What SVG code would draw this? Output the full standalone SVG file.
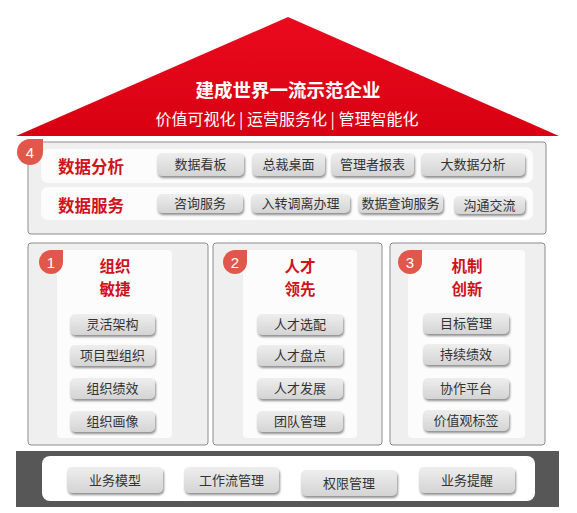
<svg xmlns="http://www.w3.org/2000/svg" width="577" height="513" viewBox="0 0 577 513">
<defs>
<linearGradient id="btnGrad" x1="0" y1="0" x2="0" y2="1">
<stop offset="0" stop-color="#eeeeee"/>
<stop offset="1" stop-color="#d4d4d4"/>
</linearGradient>
<linearGradient id="roofGrad" x1="0" y1="0" x2="0" y2="1">
<stop offset="0" stop-color="#ea0a1e"/>
<stop offset="1" stop-color="#d80012"/>
</linearGradient>
<filter id="shadow" x="-10%" y="-20%" width="130%" height="160%">
<feDropShadow dx="1" dy="2" stdDeviation="0.9" flood-color="#555" flood-opacity="0.65"/>
</filter>
</defs>
<style>
.panel{fill:#efefef;stroke:#8c8c8c;stroke-width:1}
.inner{fill:#fcfcfc}
.btn{fill:url(#btnGrad);filter:url(#shadow)}
.bt{font-family:"Noto Sans CJK SC","Noto Sans",sans-serif;font-size:13px;fill:#333;text-anchor:middle}
.lbl{font-family:"Noto Sans CJK SC","Noto Sans",sans-serif;font-size:16.5px;font-weight:bold;fill:#d0121b;text-anchor:middle}
.ttl{font-family:"Noto Sans CJK SC","Noto Sans",sans-serif;font-size:15.5px;font-weight:bold;fill:#d0121b;text-anchor:middle}
.badge{fill:#e2574c}
.bn{font-family:"Liberation Sans","DejaVu Sans",sans-serif;font-size:15px;fill:#fff;text-anchor:middle}
</style>
<rect width="577" height="513" fill="#ffffff"/>

<g id="roof">
<polygon points="288,17 16,136 559,136" fill="url(#roofGrad)"/>
<text x="288" y="97" font-family="'Noto Sans CJK SC',sans-serif" font-size="18.5" font-weight="bold" fill="#fff" text-anchor="middle">建成世界一流示范企业</text>
<text x="287" y="125" font-family="'Noto Sans CJK SC',sans-serif" font-size="16" fill="#fff" text-anchor="middle">价值可视化 | 运营服务化 | 管理智能化</text>
</g>

<g id="data-layer">
<rect class="panel" x="28" y="142" width="518" height="92" rx="3"/>
<rect class="inner" x="41" y="149" width="492" height="34" rx="7"/>
<rect class="inner" x="41" y="187" width="492" height="33" rx="7"/>
<path class="badge" d="M17,152 A13,13 0 0 1 30,139 L43,139 L43,152 A13,13 0 0 1 17,152 Z"/>
<text class="bn" x="30" y="158">4</text>
<text class="lbl" x="91" y="173">数据分析</text>
<text class="lbl" x="91" y="212">数据服务</text>
<rect class="btn" x="157" y="153" width="87" height="23" rx="5"/>
<text class="bt" x="200.5" y="169">数据看板</text>
<rect class="btn" x="252" y="153" width="73" height="23" rx="5"/>
<text class="bt" x="288.5" y="169">总裁桌面</text>
<rect class="btn" x="331" y="153" width="83" height="23" rx="5"/>
<text class="bt" x="372.5" y="169">管理者报表</text>
<rect class="btn" x="421" y="153" width="104" height="23" rx="5"/>
<text class="bt" x="473" y="169">大数据分析</text>
<rect class="btn" x="157" y="194" width="86" height="19" rx="5"/>
<text class="bt" x="200" y="208">咨询服务</text>
<rect class="btn" x="251" y="194" width="99" height="19" rx="5"/>
<text class="bt" x="300.5" y="208">入转调离办理</text>
<rect class="btn" x="358" y="194" width="85" height="19" rx="5"/>
<text class="bt" x="400.5" y="208">数据查询服务</text>
<rect class="btn" x="454" y="196" width="71" height="18" rx="5"/>
<text class="bt" x="489.5" y="210">沟通交流</text>
</g>

<g id="pillar-1">
<rect class="panel" x="28" y="243" width="180" height="202" rx="3"/>
<rect class="inner" x="57" y="250" width="115" height="188" rx="4"/>
<path class="badge" d="M39,262 A12,12 0 0 1 51,250 L63,250 L63,262 A12,12 0 0 1 39,262 Z"/>
<text class="bn" x="51" y="268">1</text>
<text class="ttl" x="115" y="272">组织</text>
<text class="ttl" x="115" y="295">敏捷</text>
<rect class="btn" x="70" y="314" width="85" height="21" rx="5"/>
<text class="bt" x="112.5" y="329">灵活架构</text>
<rect class="btn" x="70" y="345" width="85" height="21" rx="5"/>
<text class="bt" x="112.5" y="360">项目型组织</text>
<rect class="btn" x="70" y="378" width="85" height="21" rx="5"/>
<text class="bt" x="112.5" y="393">组织绩效</text>
<rect class="btn" x="70" y="411" width="85" height="21" rx="5"/>
<text class="bt" x="112.5" y="426">组织画像</text>
</g>

<g id="pillar-2">
<rect class="panel" x="213" y="243" width="169" height="202" rx="3"/>
<rect class="inner" x="243" y="250" width="114" height="188" rx="4"/>
<path class="badge" d="M223,262 A12,12 0 0 1 235,250 L247,250 L247,262 A12,12 0 0 1 223,262 Z"/>
<text class="bn" x="235" y="268">2</text>
<text class="ttl" x="300" y="272">人才</text>
<text class="ttl" x="300" y="295">领先</text>
<rect class="btn" x="257" y="314" width="86" height="21" rx="5"/>
<text class="bt" x="300" y="329">人才选配</text>
<rect class="btn" x="257" y="345" width="86" height="21" rx="5"/>
<text class="bt" x="300" y="360">人才盘点</text>
<rect class="btn" x="257" y="378" width="86" height="21" rx="5"/>
<text class="bt" x="300" y="393">人才发展</text>
<rect class="btn" x="257" y="411" width="86" height="21" rx="5"/>
<text class="bt" x="300" y="426">团队管理</text>
</g>

<g id="pillar-3">
<rect class="panel" x="390" y="243" width="155" height="202" rx="3"/>
<rect class="inner" x="408" y="250" width="117" height="188" rx="4"/>
<path class="badge" d="M398,262 A12,12 0 0 1 410,250 L422,250 L422,262 A12,12 0 0 1 398,262 Z"/>
<text class="bn" x="410" y="268">3</text>
<text class="ttl" x="467" y="272">机制</text>
<text class="ttl" x="467" y="295">创新</text>
<rect class="btn" x="423" y="313" width="86" height="21" rx="5"/>
<text class="bt" x="466" y="328">目标管理</text>
<rect class="btn" x="423" y="344" width="86" height="21" rx="5"/>
<text class="bt" x="466" y="359">持续绩效</text>
<rect class="btn" x="423" y="378" width="86" height="21" rx="5"/>
<text class="bt" x="466" y="393">协作平台</text>
<rect class="btn" x="423" y="410" width="86" height="21" rx="5"/>
<text class="bt" x="466" y="425">价值观标签</text>
</g>

<g id="foundation">
<rect x="16" y="451" width="543" height="56" fill="#575757"/>
<rect x="42" y="456" width="493" height="45" rx="8" fill="#ffffff"/>
<rect class="btn" x="67" y="467" width="96" height="26" rx="5"/>
<text class="bt" x="115" y="485">业务模型</text>
<rect class="btn" x="184" y="467" width="95" height="26" rx="5"/>
<text class="bt" x="231.5" y="485">工作流管理</text>
<rect class="btn" x="301" y="470" width="96" height="26" rx="5"/>
<text class="bt" x="349" y="488">权限管理</text>
<rect class="btn" x="419" y="467" width="96" height="26" rx="5"/>
<text class="bt" x="467" y="485">业务提醒</text>
</g>

<g id="connectors"></g>
</svg>
